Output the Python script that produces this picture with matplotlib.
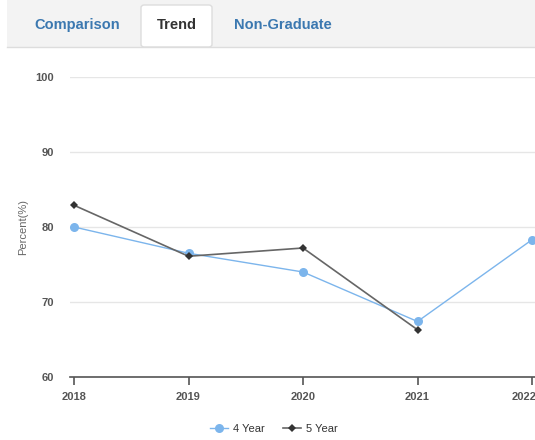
import matplotlib
matplotlib.use("Agg")
import matplotlib.pyplot as plt
from matplotlib.patches import Rectangle, FancyBboxPatch
from matplotlib.lines import Line2D
from matplotlib.transforms import ScaledTranslation

years = [2018, 2019, 2020, 2021, 2022]
four_year = [80.0, 76.5, 74.0, 67.4, 78.3]
five_year_years = [2018, 2019, 2020, 2021]
five_year = [82.9, 76.1, 77.2, 66.3]
yticks = [60, 70, 80, 90, 100]
tabs = ["Comparison", "Trend", "Non-Graduate"]

W, H = 535, 440
fig = plt.figure(figsize=(W / 100, H / 100), dpi=100)
fig.patch.set_facecolor("white")

def fx(px):
    return px / W

def fy(py):
    return 1 - py / H

# Tab bar
fig.patches.append(Rectangle((fx(7), fy(47)), fx(535) - fx(7), 47 / H,
                             transform=fig.transFigure, facecolor="#f3f3f3",
                             edgecolor="none", zorder=0))
fig.add_artist(Line2D([fx(7), 1], [fy(47), fy(47)], transform=fig.transFigure,
                      color="#dddddd", lw=1))
fig.patches.append(FancyBboxPatch((fx(141), fy(47)), (212 - 141) / W, 42 / H,
                                  boxstyle="round,pad=0,rounding_size=0.006",
                                  transform=fig.transFigure, facecolor="white",
                                  edgecolor="#dddddd", lw=1, zorder=1))
tab_x = [77, 177, 283]
tab_colors = ["#3b78b0", "#333333", "#3b78b0"]
for t, x, c in zip(tabs, tab_x, tab_colors):
    fig.text(fx(x), fy(25), t, ha="center", va="center", fontsize=10.5,
             fontweight="bold", color=c, family="Liberation Sans", zorder=3)

# Axes: px 70 -> 545 horizontally, px 77 -> 377 vertically
ax = fig.add_axes([fx(70), fy(377), (545 - 70) / W, (377 - 77) / H])
ax.set_xlim(2018 - 4 / 114.5, 2022 + 13 / 114.5)
ax.set_ylim(60, 100)
ax.set_yticks(yticks)
ax.set_xticks(years)
ax.set_xticklabels([str(y) for y in years])
ax.grid(axis="y", color="#e6e6e6", lw=1)
ax.set_axisbelow(True)
for s in ["top", "right", "left"]:
    ax.spines[s].set_visible(False)
ax.spines["bottom"].set_color("#555555")
ax.spines["bottom"].set_linewidth(1.2)
ax.tick_params(axis="y", length=0, pad=11.5, labelsize=8, labelcolor="#555555")
ax.tick_params(axis="x", length=6, width=1.2, color="#555555", labelsize=8,
               labelcolor="#555555", pad=5)
for lab in ax.get_xticklabels() + ax.get_yticklabels():
    lab.set_fontweight("bold")
    lab.set_family("Liberation Sans")
last = ax.get_xticklabels()[-1]
last.set_transform(last.get_transform() + ScaledTranslation(-8 / 100, 0, fig.dpi_scale_trans))
ax.set_ylabel("Percent(%)", fontsize=8, color="#666666", labelpad=5,
              family="Liberation Sans")

ax.plot(years, four_year, color="#7cb5ec", lw=1, marker="o", ms=6.5,
        markeredgewidth=0, label="4 Year", clip_on=False, zorder=3)
ax.plot(five_year_years, five_year, color="#666666", lw=1.2, marker="D",
        ms=4.5, markerfacecolor="#333333", markeredgewidth=0, label="5 Year",
        clip_on=False, zorder=4)

leg = fig.legend(loc="center", bbox_to_anchor=(fx(274), fy(429)), ncol=2,
                 frameon=False, handlelength=1.6, columnspacing=1.6,
                 handletextpad=0.5, prop={"family": "Liberation Sans", "size": 8})
for t in leg.get_texts():
    t.set_color("#333333")

fig.savefig("out.png", dpi=100)
